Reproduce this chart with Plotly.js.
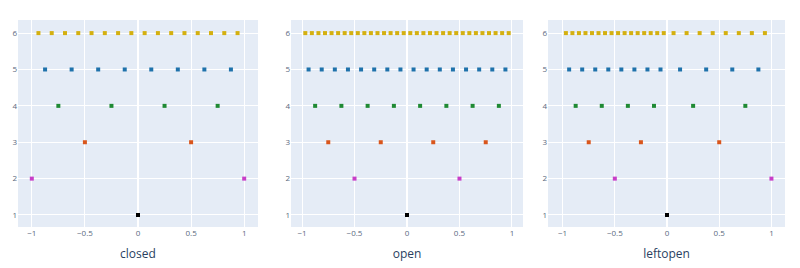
<!DOCTYPE html>
<html>
<head>
<meta charset="utf-8">
<script src="https://cdn.plot.ly/plotly-3.0.1.min.js"></script>
<style>html,body{margin:0;padding:0;background:#fff;}#chart{width:800px;height:268px;}</style>
</head>
<body>
<div id="chart"></div>
<script>
// Panel titles
const panelTitles = ["closed", "open", "leftopen"];
// Level (y) values and colours
const levels = [1, 2, 3, 4, 5, 6];
const levelColors = ["#000000", "#c83ec8", "#d9561c", "#1f8a34", "#1f72ab", "#d4b010"];

// closed
const closedX1 = [0];
const closedX2 = [-1, 1];
const closedX3 = [-0.5, 0.5];
const closedX4 = [-0.75, -0.25, 0.25, 0.75];
const closedX5 = [-0.875, -0.625, -0.375, -0.125, 0.125, 0.375, 0.625, 0.875];
const closedX6 = [-0.9375, -0.8125, -0.6875, -0.5625, -0.4375, -0.3125, -0.1875, -0.0625,
                  0.0625, 0.1875, 0.3125, 0.4375, 0.5625, 0.6875, 0.8125, 0.9375];

// open
const openX1 = [0];
const openX2 = [-0.5, 0.5];
const openX3 = [-0.75, -0.25, 0.25, 0.75];
const openX4 = [-0.875, -0.625, -0.375, -0.125, 0.125, 0.375, 0.625, 0.875];
const openX5 = [-0.9375, -0.8125, -0.6875, -0.5625, -0.4375, -0.3125, -0.1875, -0.0625,
                0.0625, 0.1875, 0.3125, 0.4375, 0.5625, 0.6875, 0.8125, 0.9375];
const openX6 = [-0.96875, -0.90625, -0.84375, -0.78125, -0.71875, -0.65625, -0.59375, -0.53125,
                -0.46875, -0.40625, -0.34375, -0.28125, -0.21875, -0.15625, -0.09375, -0.03125,
                0.03125, 0.09375, 0.15625, 0.21875, 0.28125, 0.34375, 0.40625, 0.46875,
                0.53125, 0.59375, 0.65625, 0.71875, 0.78125, 0.84375, 0.90625, 0.96875];

// leftopen
const leftopenX1 = [0];
const leftopenX2 = [-0.5, 1];
const leftopenX3 = [-0.75, -0.25, 0.5];
const leftopenX4 = [-0.875, -0.625, -0.375, -0.125, 0.25, 0.75];
const leftopenX5 = [-0.9375, -0.8125, -0.6875, -0.5625, -0.4375, -0.3125, -0.1875, -0.0625,
                    0.125, 0.375, 0.625, 0.875];
const leftopenX6 = [-0.96875, -0.90625, -0.84375, -0.78125, -0.71875, -0.65625, -0.59375, -0.53125,
                    -0.46875, -0.40625, -0.34375, -0.28125, -0.21875, -0.15625, -0.09375, -0.03125,
                    0.0625, 0.1875, 0.3125, 0.4375, 0.5625, 0.6875, 0.8125, 0.9375];

const panels = [
  [closedX1, closedX2, closedX3, closedX4, closedX5, closedX6],
  [openX1, openX2, openX3, openX4, openX5, openX6],
  [leftopenX1, leftopenX2, leftopenX3, leftopenX4, leftopenX5, leftopenX6]
];

const traces = [];
panels.forEach((rows, p) => {
  const ax = p === 0 ? "" : String(p + 1);
  rows.forEach((xs, i) => {
    traces.push({
      type: "scatter", mode: "markers",
      x: xs, y: xs.map(() => levels[i]),
      xaxis: "x" + ax, yaxis: "y" + ax,
      marker: {symbol: "square", size: 4, color: levelColors[i], line: {width: 0}},
      showlegend: false, hoverinfo: "x+y"
    });
  });
});

const W = 800;
const domains = [[18 / W, 258 / W], [291 / W, 523 / W], [548 / W, 785 / W]];
const xRanges = [[-1.13, 1.13], [-1.105, 1.105], [-1.14, 1.13]];
const tickFont = {family: "Open Sans, sans-serif", size: 8, color: "#5a6a80"};
const layout = {
  width: 800, height: 268,
  margin: {l: 0, r: 0, t: 20, b: 41},
  paper_bgcolor: "#ffffff", plot_bgcolor: "#e5ecf6",
  showlegend: false,
  font: {family: "Open Sans, sans-serif", color: "#2a3f5f"}
};
domains.forEach((d, p) => {
  const ax = p === 0 ? "" : String(p + 1);
  layout["xaxis" + ax] = {
    domain: d, anchor: "y" + ax,
    range: xRanges[p],
    tickvals: [-1, -0.5, 0, 0.5, 1], ticktext: ["−1", "−0.5", "0", "0.5", "1"],
    gridcolor: "#ffffff", zeroline: true, zerolinecolor: "#ffffff", zerolinewidth: 1.5,
    tickfont: tickFont, ticks: "",
    title: {text: panelTitles[p], font: {family: "Open Sans, sans-serif", size: 12, color: "#2a3f5f"}, standoff: 12}
  };
  layout["yaxis" + ax] = {
    domain: [0, 1], anchor: "x" + ax,
    range: [0.67, 6.36],
    tickvals: levels,
    gridcolor: "#ffffff", zeroline: false,
    tickfont: tickFont, ticks: ""
  };
});

Plotly.newPlot("chart", traces, layout, {displayModeBar: false, staticPlot: true});
</script>
</body>
</html>
